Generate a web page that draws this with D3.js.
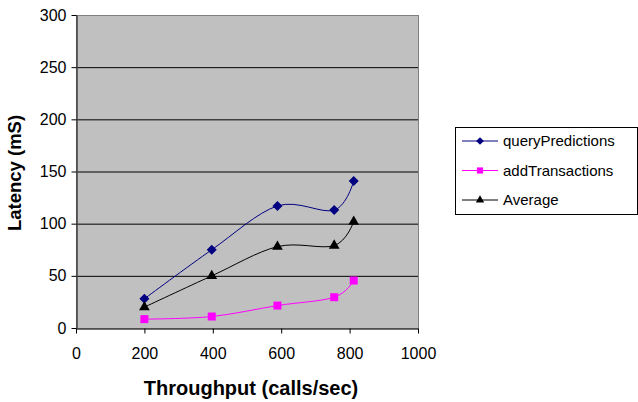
<!DOCTYPE html>
<html>
<head>
<meta charset="utf-8">
<script src="https://cdn.jsdelivr.net/npm/d3@7"></script>
<style>
  body { margin: 0; background: #fff; }
  text { font-family: "Liberation Sans", Arial, sans-serif; }
</style>
</head>
<body>
<div id="chart"></div>
<script>
// data
var throughput = [200, 397, 589, 755, 812];
var queryPredictions = [28, 75, 117, 113, 141];
var addTransactions = [8.5, 11, 21.5, 29.5, 45.5];
var average = [20, 50, 78, 79, 102];
var xTicks = [0, 200, 400, 600, 800, 1000];
var yTicks = [0, 50, 100, 150, 200, 250, 300];

var series = [
  { name: "queryPredictions", values: queryPredictions, color: "#000080", shape: d3.symbolSquare, size: 50, rotate: 45 },
  { name: "addTransactions", values: addTransactions, color: "#ff00ff", shape: d3.symbolSquare, size: 64, rotate: 0 },
  { name: "Average", values: average, color: "#000000", shape: d3.symbolTriangle, size: 50, rotate: 0 }
];

var W = 638, H = 402;
var margin = { top: 15, right: 220, bottom: 74, left: 76 },
    width = 418 - margin.left,
    height = 328 - margin.top;

var svg = d3.select("#chart")
    .append("svg")
    .attr("width", W)
    .attr("height", H)
    .append("g")
    .attr("transform", "translate(" + margin.left + "," + margin.top + ")");

var x = d3.scaleLinear().domain([0, 1000]).range([0, width]);
var y = d3.scaleLinear().domain([0, 300]).range([height, 0]);

// plot area
svg.append("rect")
    .attr("width", width)
    .attr("height", height)
    .attr("fill", "#c0c0c0");

// gridlines
svg.append("g")
    .selectAll("line")
    .data(yTicks.filter(function (d) { return d > 0 && d < 300; }))
    .enter()
    .append("line")
    .attr("x1", 0)
    .attr("x2", width)
    .attr("y1", function (d) { return y(d) + 0.5; })
    .attr("y2", function (d) { return y(d) + 0.5; })
    .attr("stroke", "#000")
    .attr("stroke-width", 1);

// plot border
svg.append("rect")
    .attr("x", 0.5)
    .attr("y", 0.5)
    .attr("width", width)
    .attr("height", height)
    .attr("fill", "none")
    .attr("stroke", "#808080")
    .attr("stroke-width", 1);

// X axis
var xAxis = svg.append("g")
    .attr("transform", "translate(0," + (height + 0.5) + ")")
    .call(d3.axisBottom(x).tickValues(xTicks).tickFormat(d3.format("d"))
        .tickSize(5).tickSizeOuter(0).tickPadding(14));
// Y axis
var yAxis = svg.append("g")
    .attr("transform", "translate(0.5,0)")
    .call(d3.axisLeft(y).tickValues(yTicks).tickSize(5).tickSizeOuter(0).tickPadding(5));

[xAxis, yAxis].forEach(function (a) {
    a.select(".domain").attr("stroke", "#404040").attr("stroke-width", 1.5);
    a.selectAll(".tick line").attr("stroke", "#000");
    a.selectAll(".tick text")
        .attr("fill", "#000")
        .style("font-size", "16px")
        .style("font-family", "Liberation Sans, Arial, sans-serif");
});

// axis titles
svg.append("text")
    .attr("text-anchor", "middle")
    .attr("x", x(500) + 4)
    .attr("y", height + 67)
    .style("font-size", "20px")
    .style("font-weight", "bold")
    .text("Throughput (calls/sec)");
svg.append("text")
    .attr("text-anchor", "middle")
    .attr("transform", "rotate(-90)")
    .attr("x", -158)
    .attr("y", -55)
    .style("font-size", "18.5px")
    .style("font-weight", "bold")
    .text("Latency (mS)");

// lines and points
var line = d3.line()
    .x(function (d) { return x(d[0]); })
    .y(function (d) { return y(d[1]); })
    .curve(d3.curveCardinal.tension(0));

series.forEach(function (s) {
    var pts = throughput.map(function (t, i) { return [t, s.values[i]]; });
    svg.append("path")
        .datum(pts)
        .attr("fill", "none")
        .attr("stroke", s.color)
        .attr("stroke-width", 1)
        .attr("d", line);
    svg.append("g")
        .selectAll("path")
        .data(pts)
        .enter()
        .append("path")
        .attr("transform", function (d) {
            return "translate(" + x(d[0]) + "," + y(d[1]) + ") rotate(" + s.rotate + ")";
        })
        .attr("d", d3.symbol().type(s.shape).size(s.size))
        .attr("fill", s.color);
});

// legend
var legend = d3.select("svg").append("g")
    .attr("transform", "translate(455,127)");
legend.append("rect")
    .attr("x", 0.5)
    .attr("y", 0.5)
    .attr("width", 182)
    .attr("height", 87)
    .attr("fill", "#fff")
    .attr("stroke", "#000");
series.forEach(function (s, i) {
    var ly = 14 + i * 29.5;
    legend.append("line")
        .attr("x1", 7)
        .attr("x2", 43)
        .attr("y1", ly)
        .attr("y2", ly)
        .attr("stroke", s.color);
    legend.append("path")
        .attr("transform", "translate(25," + ly + ") rotate(" + s.rotate + ")")
        .attr("d", d3.symbol().type(s.shape).size(s.size * 0.6))
        .attr("fill", s.color);
    legend.append("text")
        .attr("x", 48)
        .attr("y", ly)
        .attr("dy", "0.35em")
        .style("font-size", "15px")
        .text(s.name);
});
</script>
</body>
</html>
